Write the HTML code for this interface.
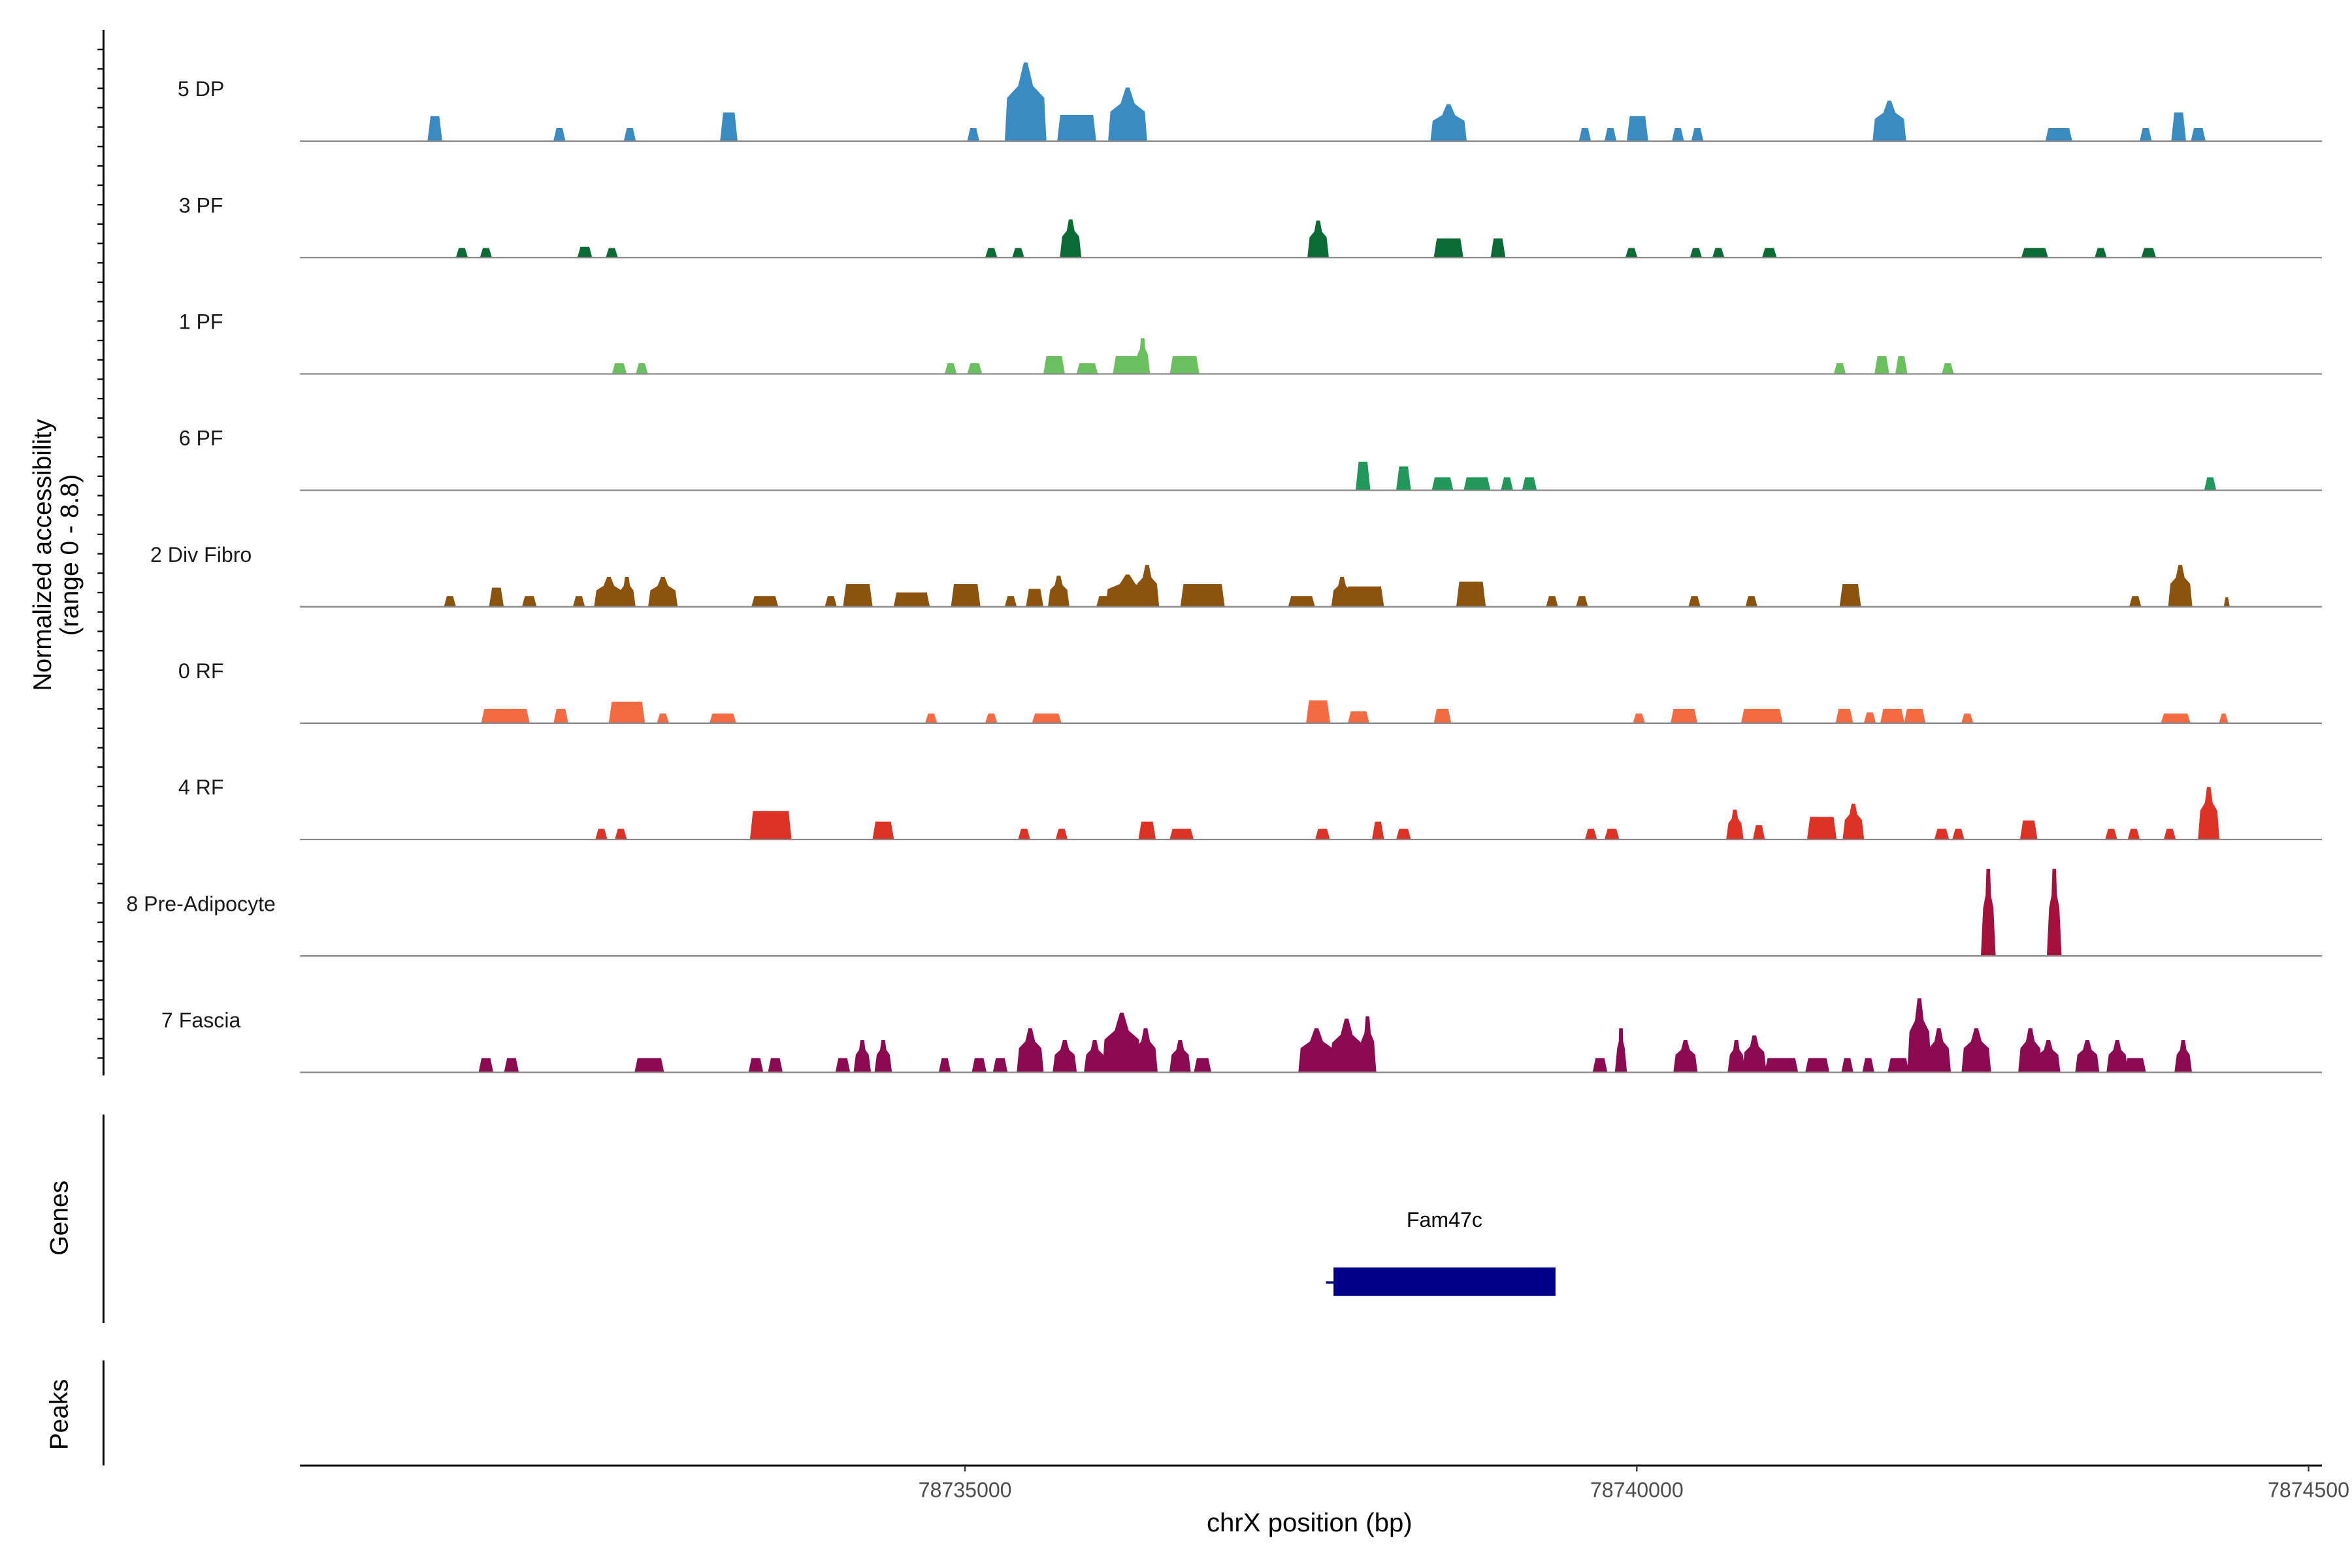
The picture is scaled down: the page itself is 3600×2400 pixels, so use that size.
<!DOCTYPE html>
<html><head><meta charset="utf-8">
<style>
html,body{margin:0;padding:0;background:#fff;}
svg{display:block;font-family:"Liberation Sans",sans-serif;}
</style></head>
<body>
<svg id="chart" width="3600" height="2400" viewBox="0 0 1568 1045.33" preserveAspectRatio="none" xmlns="http://www.w3.org/2000/svg">
<rect x="0" y="0" width="1568" height="1045.33" fill="#fff"/>
<g id="tracks"></g>
<g id="axes"></g>
</svg>
<script>
const REGION_START = 78730050;
const REGION_END = 78745100;
const X_TICKS = [78735000, 78740000, 78745000];
const X_TICK_LABELS = ["78735000", "78740000", "7874500"];
const TRACK_NAMES = ["5 DP","3 PF","1 PF","6 PF","2 Div Fibro","0 RF","4 RF","8 Pre-Adipocyte","7 Fascia"];
const TRACK_COLORS = ["#3a8bc2","#0b6b34","#6abf5f","#21985a","#8c530e","#f26b43","#dc3326","#a5113a","#8c0a52"];
const Y_MAX = 8.8;

const POS_5DP = [78731054,78731981,78732505,78733242,78735061,78735451,78735831,78736210,78738599,78739614,78739804,78740005,78740306,78740451,78741880,78743141,78743788,78744033,78744179];
const W_5DP = [110,90,90,130,90,310,290,290,270,90,90,160,90,90,250,200,90,110,110];
const H_5DP = [2.1,1.1,1.1,2.4,1.1,6.6,2.2,4.5,3.1,1.1,1.1,2.1,1.1,1.1,3.4,1.1,1.1,2.4,1.1];

const POS_3PF = [78731255,78731434,78732170,78732371,78735195,78735396,78735786,78737628,78738599,78738967,78739960,78740440,78740607,78740987,78742962,78743453,78743810];
const W_3PF = [90,90,110,90,90,90,160,160,220,110,90,90,90,110,200,90,110];
const H_3PF = [0.8,0.8,0.9,0.8,0.8,0.8,3.2,3.1,1.6,1.6,0.8,0.8,0.8,0.8,0.8,0.8,0.8];

const POS_1PF = [78732427,78732594,78734893,78735072,78735663,78735909,78736210,78736322,78736634,78741511,78741824,78741969,78742315];
const W_1PF = [110,90,90,110,160,160,220,110,220,90,110,90,90];
const H_1PF = [0.9,0.9,0.9,0.9,1.5,0.9,1.5,3.0,1.5,0.9,1.5,1.5,0.9];

const POS_6PF = [78737962,78738264,78738554,78738811,78739034,78739201,78744268];
const W_6PF = [110,110,160,200,90,110,90];
const H_6PF = [2.4,2.0,1.1,1.1,1.1,1.1,1.1];

const POS_2DF = [78731166,78731512,78731757,78732126,78732349,78732483,78732751,78733510,78734001,78734202,78734603,78735005,78735340,78735518,78735697,78736032,78736210,78736355,78736768,78737505,78737806,78737974,78738766,78739369,78739592,78740429,78740853,78741589,78743710,78744045,78744391];
const W_2DF = [90,110,110,90,220,130,220,200,90,220,270,220,90,130,160,110,330,180,330,200,160,290,220,90,90,90,90,160,90,180,45];
const H_2DF = [0.9,1.6,0.9,0.9,2.5,2.5,2.5,0.9,0.9,1.9,1.2,1.9,0.9,1.5,2.6,0.9,2.7,3.5,1.9,0.9,2.5,1.7,2.1,0.9,0.9,0.9,0.9,1.9,0.9,3.5,0.8];

const POS_0RF = [78731579,78731992,78732483,78732751,78733197,78734748,78735195,78735608,78737628,78737929,78738554,78740016,78740351,78740931,78741545,78741735,78741902,78742069,78742460,78744011,78744368];
const W_0RF = [360,110,270,90,200,90,90,220,180,160,130,90,200,310,130,90,180,160,90,220,70];
const H_0RF = [1.2,1.2,1.8,0.8,0.8,0.8,0.8,0.8,1.9,1.0,1.2,0.8,1.2,1.2,1.2,0.9,1.2,1.2,0.8,0.8,0.8];

const POS_4RF = [78732293,78732438,78733554,78734391,78735440,78735719,78736355,78736612,78737661,78738074,78738264,78739659,78739815,78740730,78740909,78741377,78741612,78742270,78742393,78742917,78743531,78743699,78743967,78744257];
const W_4RF = [90,90,310,160,90,90,130,180,110,90,110,90,110,130,90,220,160,110,90,130,90,90,90,160];
const H_4RF = [0.9,0.9,2.4,1.5,0.9,0.9,1.5,0.9,0.9,1.5,0.9,0.9,0.9,2.5,1.2,1.9,3.0,0.9,0.9,1.6,0.9,0.9,0.9,4.4];

const POS_8PA = [78742616,78743107];
const W_8PA = [110,110];
const H_8PA = [7.3,7.3];

const POS_7FA = [78731434,78731624,78732650,78733443,78733588,78734090,78734235,78734391,78734849,78735105,78735262,78735485,78735742,78735965,78736166,78736344,78736601,78736768,78737616,78737840,78737996,78739726,78739882,78740362,78740741,78740875,78741076,78741344,78741567,78741723,78741947,78742103,78742248,78742527,78742929,78743063,78743353,78743576,78743710,78744067];
const W_7FA = [110,110,220,110,110,110,130,130,90,110,110,200,180,160,290,180,160,130,270,250,130,110,90,180,130,180,250,180,90,90,160,180,180,220,180,180,180,160,160,130];
const H_7FA = [1.2,1.2,1.2,1.2,1.2,1.2,2.7,2.7,1.2,1.2,1.2,3.7,2.7,2.7,5.0,3.7,2.7,1.2,3.7,4.5,4.7,1.2,3.7,2.7,2.7,3.1,1.2,1.2,1.2,1.2,1.2,6.2,3.7,3.7,3.7,2.7,2.7,2.7,1.2,2.7];

const TRACK_POS = [POS_5DP,POS_3PF,POS_1PF,POS_6PF,POS_2DF,POS_0RF,POS_4RF,POS_8PA,POS_7FA];
const TRACK_W = [W_5DP,W_3PF,W_1PF,W_6PF,W_2DF,W_0RF,W_4RF,W_8PA,W_7FA];
const TRACK_H = [H_5DP,H_3PF,H_1PF,H_6PF,H_2DF,H_0RF,H_4RF,H_8PA,H_7FA];

const NS = "http://www.w3.org/2000/svg";
const X0 = 200, X1 = 1548;
function xs(bp){ return X0 + (bp - REGION_START) / (REGION_END - REGION_START) * (X1 - X0); }
const TRACK_TOP = 16.5, TRACK_STEP = 77.6;
function baseY(i){ return TRACK_TOP + TRACK_STEP * (i + 1); }
function ys(v, i){ return baseY(i) - v / Y_MAX * 70; }

function mk(tag, attrs, parent){
  const e = document.createElementNS(NS, tag);
  for (const k in attrs) e.setAttribute(k, attrs[k]);
  parent.appendChild(e);
  return e;
}
const tracks = document.getElementById('tracks');
const axes = document.getElementById('axes');

TRACK_NAMES.forEach((name, i) => {
  const g = mk('g', {}, tracks);
  
  
  const by = baseY(i);
  const lab = mk('text', {x: 134, y: by - 30, 'font-size': 14, 'text-anchor': 'middle', fill: '#1a1a1a'}, g);
  lab.textContent = name;
  
  
  const pos = TRACK_POS[i], ws = TRACK_W[i], hs = TRACK_H[i];
  for (let j = 0; j < pos.length; j++) {
    const s = xs(pos[j] - ws[j] / 2), e = xs(pos[j] + ws[j] / 2);
    const top = ys(hs[j], i);
    const w = e - s;
    let pts;
    if (hs[j] >= 2.5 && w > 8) {
      const sh = by - (by - top) * 0.55;
      const m = (s + e) / 2;
      pts = `${s},${by} ${s+1.5},${sh} ${m-w*0.18},${sh-(by-top)*0.15} ${m-1.2},${top} ${m+1.2},${top} ${m+w*0.18},${sh-(by-top)*0.15} ${e-1.5},${sh} ${e},${by}`;
    } else {
      const sl = Math.min(w * 0.3, 2);
      pts = `${s},${by} ${s+sl},${top} ${e-sl},${top} ${e},${by}`;
    }
    const p = mk('polygon', {points: pts, fill: TRACK_COLORS[i]}, g);
    
    
  }
  const bl = mk('line', {x1: X0, x2: X1, y1: by, y2: by, stroke: '#888', 'stroke-width': 1}, g);
  
  
});

// left axis for tracks
const ya = mk('line', {x1: 69, x2: 69, y1: 20, y2: 717, stroke: '#000', 'stroke-width': 1.3}, axes);


for (let y = 33; y <= 716; y += 12.93) {
  mk('line', {x1: 65, x2: 69, y1: y, y2: y, stroke: '#000', 'stroke-width': 1}, axes);
}
const yt = mk('text', {transform: 'translate(34,370) rotate(-90)', 'font-size': 17, 'text-anchor': 'middle', fill: '#000'}, axes);


const t1 = mk('tspan', {x: 0, dy: 0}, yt); t1.textContent = 'Normalized accessibility';
const t2 = mk('tspan', {x: 0, dy: 18}, yt); t2.textContent = '(range 0 - 8.8)';

// genes panel
const ga = mk('line', {x1: 69, x2: 69, y1: 743, y2: 882, stroke: '#000', 'stroke-width': 1.3}, axes);


const gt = mk('text', {transform: 'translate(45,812) rotate(-90)', 'font-size': 17, 'text-anchor': 'middle'}, axes);
gt.textContent = 'Genes';


const gn = mk('text', {x: 963, y: 818, 'font-size': 14, 'text-anchor': 'middle'}, axes);
gn.textContent = 'Fam47c';


const gb = mk('rect', {x: 889, y: 845, width: 148, height: 19, fill: '#00008b'}, axes);


mk('line', {x1: 884, x2: 890, y1: 855, y2: 855, stroke: '#00008b', 'stroke-width': 1.5}, axes);

// peaks panel
const pa = mk('line', {x1: 69, x2: 69, y1: 907, y2: 977, stroke: '#000', 'stroke-width': 1.3}, axes);


const pt = mk('text', {transform: 'translate(45,943) rotate(-90)', 'font-size': 17, 'text-anchor': 'middle'}, axes);
pt.textContent = 'Peaks';



// x axis
const xa = mk('line', {x1: X0, x2: X1, y1: 977, y2: 977, stroke: '#000', 'stroke-width': 1.3}, axes);


X_TICKS.forEach((t, k) => {
  const x = xs(t);
  mk('line', {x1: x, x2: x, y1: 977, y2: 981, stroke: '#333', 'stroke-width': 1}, axes);
  const tl = mk('text', {x: x, y: 998, 'font-size': 14, 'text-anchor': 'middle', fill: '#4d4d4d'}, axes);
  tl.textContent = X_TICK_LABELS[k];
  
  
});
const xt = mk('text', {x: 873, y: 1021, 'font-size': 17.5, 'text-anchor': 'middle'}, axes);
xt.textContent = 'chrX position (bp)';


</script>
</body></html>
